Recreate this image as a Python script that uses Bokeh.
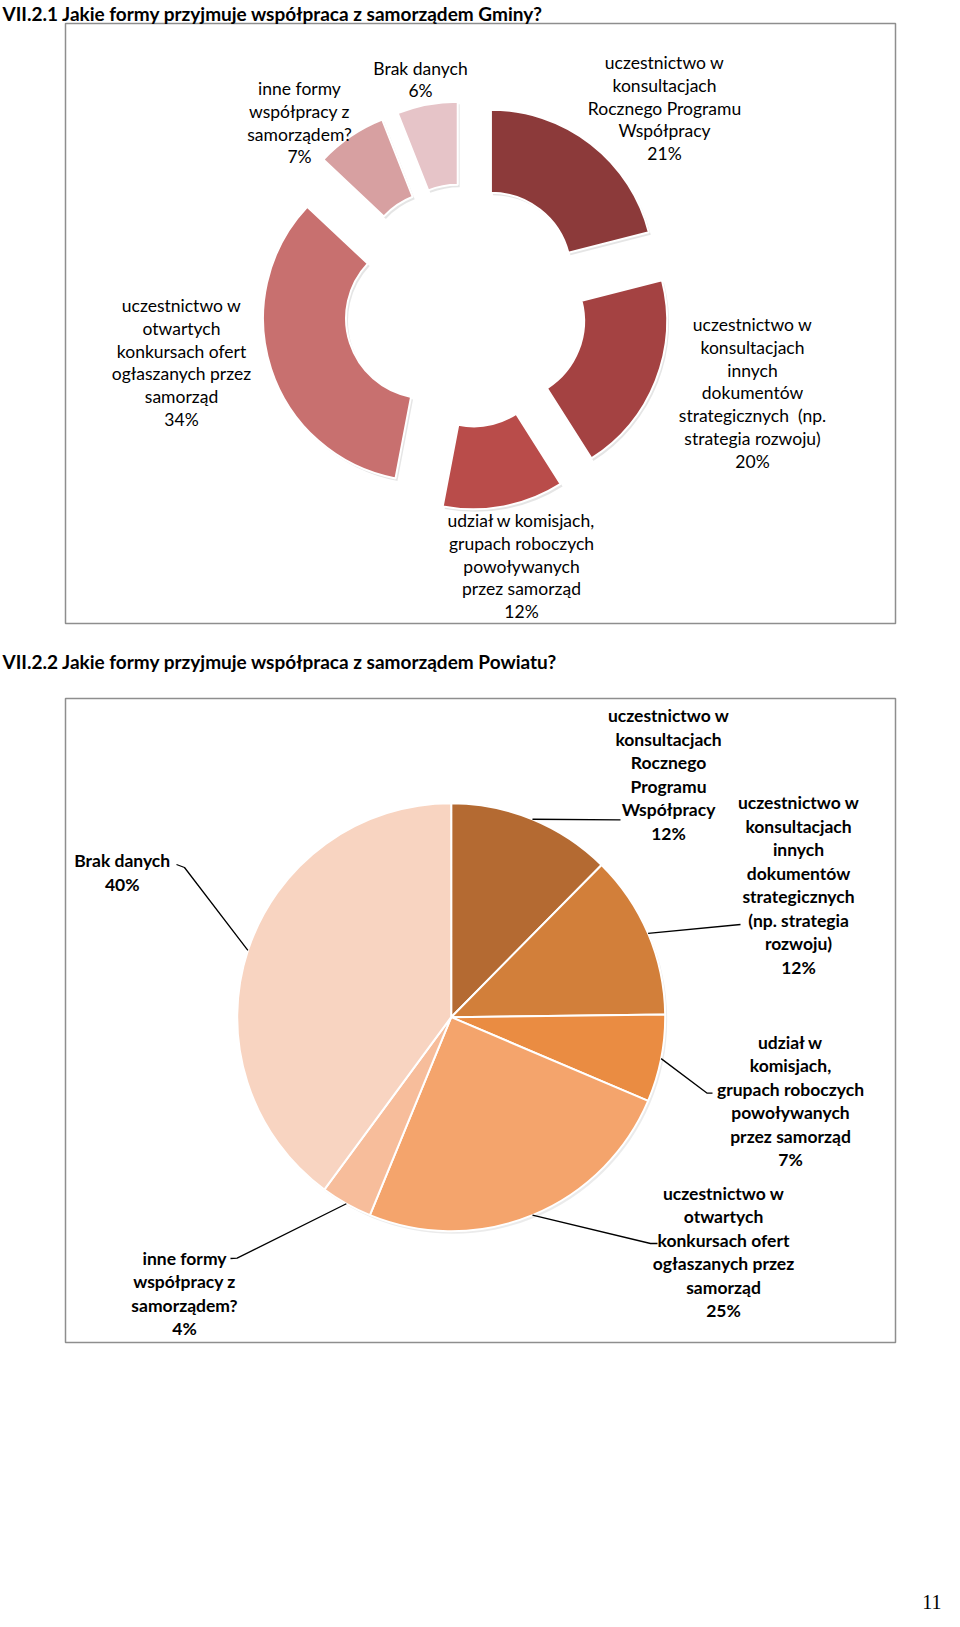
import math
from bokeh.plotting import figure
from bokeh.models import Range1d, ColumnDataSource
from bokeh.core.properties import value
from bokeh.embed import file_html
from bokeh.resources import INLINE

# ---------------- data ----------------
title_gmina = "VII.2.1 Jakie formy przyjmuje współpraca z samorządem Gminy?"
title_powiat = "VII.2.2 Jakie formy przyjmuje współpraca z samorządem Powiatu?"
page_number = "11"

gmina_categories = [
    "uczestnictwo w\nkonsultacjach\nRocznego Programu\nWspółpracy",
    "uczestnictwo w\nkonsultacjach\ninnych\ndokumentów\nstrategicznych\u00a0 (np.\nstrategia rozwoju)",
    "udział w komisjach,\ngrupach roboczych\npowoływanych\nprzez samorząd",
    "uczestnictwo w\notwartych\nkonkursach ofert\nogłaszanych przez\nsamorząd",
    "inne formy\nwspółpracy z\nsamorządem?",
    "Brak danych",
]
gmina_values = [21, 20, 12, 34, 7, 6]
gmina_colors = ["#8C3A3A", "#A44242", "#B94C4A", "#C8706F", "#D7A0A1", "#E6C4C8"]

powiat_categories = [
    "uczestnictwo w\nkonsultacjach\nRocznego\nProgramu\nWspółpracy",
    "uczestnictwo w\nkonsultacjach\ninnych\ndokumentów\nstrategicznych\n(np. strategia\nrozwoju)",
    "udział w\nkomisjach,\ngrupach roboczych\npowoływanych\nprzez samorząd",
    "uczestnictwo w\notwartych\nkonkursach ofert\nogłaszanych przez\nsamorząd",
    "inne formy\nwspółpracy z\nsamorządem?",
    "Brak danych",
]
powiat_values = [12.4, 12.4, 6.6, 24.8, 3.9, 39.9]
powiat_colors = ["#B46A32", "#D27F3A", "#EA8C42", "#F4A46C", "#F7BD9B", "#F8D4C1"]

# ---------------- layout (page pixel coordinates) ----------------
W, H = 944, 1611
FONT = value("Lato")


def Y(py):
    return -py


p = figure(width=W, height=H, x_range=Range1d(0, W), y_range=Range1d(-H, 0),
           output_backend="svg", toolbar_location=None, min_border=0,
           x_axis_location=None, y_axis_location=None)
p.grid.visible = False
p.outline_line_color = None
p.background_fill_color = "white"

# frames
p.quad(left=[65, 65], right=[895, 895], top=[Y(23), Y(698)], bottom=[Y(623), Y(1342)],
       fill_color=None, line_color="#8E8E8E", line_width=1.5)

# titles
p.text(x=[2, 2], y=[Y(12.5), Y(661)], text=[title_gmina, title_powiat],
       text_align="left", text_baseline="middle", text_font=FONT,
       text_font_size="19px", text_font_style="bold", text_color="black")
p.text(x=[941], y=[Y(1601)], text=[page_number], text_align="right", text_baseline="middle",
       text_font=value("Liberation Serif"), text_font_size="20px", text_color="black")


def spans(values):
    total = float(sum(values))
    cum = 0.0
    out = []
    for v in values:
        t1 = cum / total * 360.0
        cum += v
        t2 = cum / total * 360.0
        out.append((t1, t2))
    return out


# ---------------- chart 1: exploded doughnut ----------------
cx1, cy1, R1, r1, d1 = 465, 305, 163, 80, 41.5
src1 = dict(x=[], y=[], sx=[], sy=[], s=[], e=[], c=[])
for (t1, t2), col in zip(spans(gmina_values), gmina_colors):
    mid = math.radians((t1 + t2) / 2)
    x = cx1 + d1 * math.sin(mid)
    y = cy1 - d1 * math.cos(mid)
    src1["x"].append(x)
    src1["y"].append(Y(y))
    src1["sx"].append(x + 2)
    src1["sy"].append(Y(y + 2.5))
    src1["s"].append(math.radians(90 - t2))
    src1["e"].append(math.radians(90 - t1))
    src1["c"].append(col)
ds1 = ColumnDataSource(src1)
p.annular_wedge(x="sx", y="sy", inner_radius=r1, outer_radius=R1, start_angle="s", end_angle="e",
                fill_color="#000000", fill_alpha=0.10, line_color=None, source=ds1)
p.annular_wedge(x="x", y="y", inner_radius=r1, outer_radius=R1, start_angle="s", end_angle="e",
                fill_color="c", line_color="white", line_width=2, source=ds1)

# label anchors (center x, first-line y) for chart 1
g_anchor = [(664, 62), (752, 324), (521, 520), (181, 305), (299, 88), (420, 67.5)]
g_step = 22.8
tx, ty, tt = [], [], []
for cat, v, (ax, ay) in zip(gmina_categories, gmina_values, g_anchor):
    lines = cat.split("\n") + [f"{round(v)}%"]
    for i, ln in enumerate(lines):
        tx.append(ax)
        ty.append(Y(ay + i * g_step))
        tt.append(ln)
p.text(x=tx, y=ty, text=tt, text_align="center", text_baseline="middle", text_font=FONT,
       text_font_size="17.5px", text_font_style="normal", text_color="black")

# ---------------- chart 2: pie ----------------
cx2, cy2, R2 = 450.7, 1016.7, 214
src2 = dict(s=[], e=[], c=[])
mids2 = []
for (t1, t2), col in zip(spans(powiat_values), powiat_colors):
    src2["s"].append(math.radians(90 - t2))
    src2["e"].append(math.radians(90 - t1))
    src2["c"].append(col)
    mids2.append(math.radians((t1 + t2) / 2))
ds2 = ColumnDataSource(src2)
p.wedge(x=cx2 + 2, y=Y(cy2 + 2.5), radius=R2, start_angle="s", end_angle="e",
        fill_color="#000000", fill_alpha=0.08, line_color=None, source=ds2)
p.wedge(x=cx2, y=Y(cy2), radius=R2, start_angle="s", end_angle="e",
        fill_color="c", line_color="white", line_width=2, source=ds2)

# leader line bends (page coords) for chart 2, from slice edge at mid angle
leader_pts = [
    [(620, 819.3)],
    [(740, 924)],
    [(706.7, 1092.7), (712, 1092.7)],
    [(650, 1243), (657, 1243)],
    [(236.6, 1257.6), (230, 1258)],
    [(184, 867), (176, 864)],
]
xs, ys = [], []
for m, pts in zip(mids2, leader_pts):
    ex = cx2 + R2 * math.sin(m)
    ey = cy2 - R2 * math.cos(m)
    xs.append([ex] + [q[0] for q in pts])
    ys.append([Y(ey)] + [Y(q[1]) for q in pts])
p.multi_line(xs=xs, ys=ys, line_color="black", line_width=1.3)

p_anchor = [(668, 715), (798, 802), (790, 1041.5), (723, 1192.5), (184, 1257.6), (121.7, 860)]
p_step = 23.5
tx, ty, tt = [], [], []
for cat, v, (ax, ay) in zip(powiat_categories, powiat_values, p_anchor):
    lines = cat.split("\n") + [f"{round(v)}%"]
    for i, ln in enumerate(lines):
        tx.append(ax)
        ty.append(Y(ay + i * p_step))
        tt.append(ln)
p.text(x=tx, y=ty, text=tt, text_align="center", text_baseline="middle", text_font=FONT,
       text_font_size="17.5px", text_font_style="bold", text_color="black")

open("out.html", "w").write(file_html(p, INLINE))
